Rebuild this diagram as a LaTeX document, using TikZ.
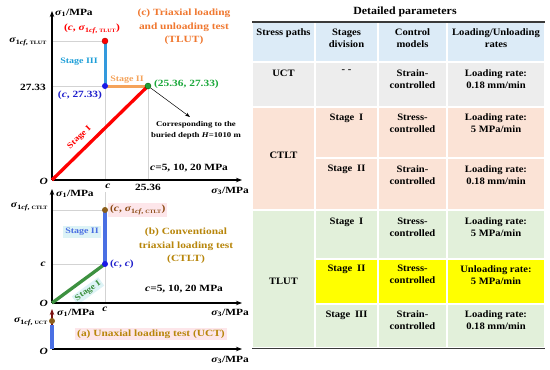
\documentclass[tikz,border=0pt]{standalone}
\usepackage{fontspec}
\setmainfont{Liberation Serif}
\newfontfamily\cf{Liberation Serif}[FakeStretch=1.2]
\newfontfamily\tf{Liberation Serif}[FakeStretch=1.08]
\usetikzlibrary{arrows.meta}
\definecolor{orangeT}{HTML}{F07830}
\definecolor{redP}{HTML}{FF0000}
\definecolor{cyanS}{HTML}{1E9FD8}
\definecolor{lineIII}{HTML}{3399DD}
\definecolor{orangeL}{HTML}{F5A35A}
\definecolor{greenP}{HTML}{22A03A}
\definecolor{greenT}{HTML}{1AA83A}
\definecolor{blueP}{HTML}{1A1AE6}
\definecolor{blueT}{HTML}{2020CC}
\definecolor{brownP}{HTML}{8B5E1A}
\definecolor{brownT}{HTML}{8B4A13}
\definecolor{goldT}{HTML}{B8860B}
\definecolor{blueL}{HTML}{4A6FE3}
\definecolor{greenL}{HTML}{3D9140}
\definecolor{pinkbg}{HTML}{FDE6EA}
\definecolor{cyanbg}{HTML}{DDF3F6}
\definecolor{gridgray}{HTML}{D3D3D3}
\definecolor{axred}{HTML}{7A1010}
\definecolor{hdr}{HTML}{DCEBF7}
\definecolor{ucte}{HTML}{EDEDED}
\definecolor{ctlt}{HTML}{FBE3D6}
\definecolor{tlut}{HTML}{E2F0DA}
\definecolor{yel}{HTML}{FFFF00}
\definecolor{rulec}{HTML}{3A3A3A}
\newcommand\sgm[1]{\textit{σ}\textsubscript{#1}}
\begin{document}
\begin{tikzpicture}[x=1pt,y=-1pt,
  every node/.style={inner sep=0pt},
  lbl/.style={font=\cf\bfseries\fontsize{9.5}{11}\selectfont},
  small/.style={font=\cf\bfseries\fontsize{7.3}{11}\selectfont},
  stg/.style={font=\cf\bfseries\fontsize{8.3}{9}\selectfont},
  ttl/.style={font=\cf\bfseries\fontsize{9.5}{13.5}\selectfont, align=center},
  axis/.style={-{Stealth[length=6pt,width=4.5pt]}, line width=1.1pt},
  gridl/.style={draw=gridgray, line width=0.6pt},
  pt/.style={circle, minimum size=6pt, inner sep=0pt},
  cell/.style={draw=white, line width=1.5pt},
  th/.style={font=\tf\bfseries\fontsize{9.8}{12}\selectfont, align=center, anchor=north},
  tt/.style={font=\tf\bfseries\fontsize{9.8}{12}\selectfont, align=center, anchor=north},
]
\useasboundingbox (0,0) rectangle (550,370);
\fill[white] (0,0) rectangle (550,370);

% ================= chart (c) =================
\coordinate (Oc) at (52,180);
\coordinate (Yc) at (52,11);
\coordinate (Xc) at (242,180);
\coordinate (Pr) at (105,41);
\coordinate (Pb) at (105,86);
\coordinate (Pg) at (148,86);
\draw[gridl] (52,41) -- (Pr);
\draw[gridl] (52,86) -- (Pb);
\draw[gridl] (105,180) -- (Pr);
\draw[gridl] (148,180) -- (Pg);
\draw[axis] (Oc) -- (Yc);
\draw[axis] (Oc) -- (Xc);
\draw[line width=3pt, draw=lineIII] (Pr) -- (Pb);
\draw[line width=3pt, draw=orangeL] (Pb) -- (Pg);
\draw[line width=3.3pt, draw=redP] (Oc) -- (Pg);
\node[pt, fill=redP, draw=red!70!black, line width=0.4pt] (nPr) at (Pr) {};
\node[pt, fill=blueP] (nPb) at (Pb) {};
\node[pt, fill=greenP, draw=green!40!black, line width=0.4pt] (nPg) at (Pg) {};
\coordinate (arrEnd) at (190,117);
\draw[-{Stealth[length=5pt,width=3.5pt]}, line width=0.5pt] (nPg) -- (arrEnd);

\node[lbl, anchor=west] (c-s1) at (55,13) {\sgm{1}/MPa};
\node[lbl, anchor=east] (c-s1cf) at (47,42) {\sgm{1\textit{cf}, {\tiny TLUT}}};
\node[lbl, anchor=east] (c-2733) at (46,87) {27.33};
\node[lbl, anchor=east] (c-O) at (48,181) {\textit{O}};
\node[lbl] (c-c) at (108,186) {\textit{c}};
\node[lbl] (c-2536) at (148,187) {25.36};
\node[lbl, anchor=east] (c-s3) at (249,191) {\sgm{3}/MPa};
\node[lbl, text=redP] (c-lr) at (92,29) {(\textit{c}, \sgm{1\textit{cf}, {\tiny TLUT}})};
\node[lbl, text=blueT] (c-lb) at (80,95) {(\textit{c}, 27.33)};
\node[lbl, text=greenT, anchor=west] (c-lg) at (154,84) {(25.36, 27.33)};
\node[stg, text=cyanS] (c-st3) at (79,62) {Stage III};
\node[stg, text=orangeL] (c-st2) at (127,79.5) {Stage II};
\node[stg, text=redP, rotate=44] (c-st1) at (79.5,137.5) {Stage I};
\node[ttl, text=orangeT] (c-title) at (184,27) {(c) Triaxial loading\\and unloading test\\(TLUT)};
\node[small, align=center] (c-note) at (196,130) {Corresponding to the\\buried depth \textit{H}=1010 m};
\node[lbl, anchor=west] (c-cval) at (150,168) {\textit{c}=5, 10, 20 MPa};

% ================= chart (b) =================
\coordinate (Ob) at (52,303);
\coordinate (Yb) at (52,189);
\coordinate (Xb) at (242,303);
\coordinate (Bt) at (105,210);
\coordinate (Bc) at (105,264);
\draw[gridl] (52,210) -- (Bt);
\draw[gridl] (52,264) -- (Bc);
\draw[gridl] (105,303) -- (105,192);
\node[stg, fill=cyanbg, inner sep=2pt, text=blueL] (b-st2) at (82,232) {Stage II};
\node[stg, fill=cyanbg, inner sep=1.5pt, text=greenL, rotate=36] (b-st1) at (88,291) {Stage I};
\draw[axis] (Ob) -- (Yb);
\draw[axis] (Ob) -- (Xb);
\draw[line width=3.3pt, draw=greenL] (Ob) -- (Bc);
\draw[line width=3.3pt, draw=blueL] (Bc) -- (Bt);
\node[pt, fill=brownP] (nBt) at (Bt) {};
\node[pt, fill=blueP] (nBc) at (Bc) {};
\node[lbl, anchor=west] (b-s1) at (56,194) {\sgm{1}/MPa};
\node[lbl, anchor=east] (b-s1cf) at (48,207) {\sgm{1\textit{cf}, {\tiny CTLT}}};
\node[lbl, anchor=east] (b-c) at (46,264) {\textit{c}};
\node[lbl, anchor=east] (b-O) at (48,303) {\textit{O}};
\node[lbl] (b-cx) at (105,309) {\textit{c}};
\node[lbl, anchor=east] (b-s3) at (249,313) {\sgm{3}/MPa};
\node[lbl, text=brownT, anchor=west, fill=pinkbg, inner sep=2pt] (b-lt) at (108,210) {(\textit{c}, \sgm{1\textit{cf}, {\tiny CTLT}})};
\node[lbl, text=blueT, anchor=west] (b-lc) at (110,264) {(\textit{c}, \textit{c})};
\node[ttl, text=goldT] (b-title) at (186,246) {(b) Conventional\\triaxial loading test\\(CTLT)};
\node[lbl, anchor=west] (b-cval) at (145,289) {\textit{c}=5, 10, 20 MPa};

% ================= chart (a) =================
\coordinate (Oa) at (52,349);
\coordinate (Ya) at (52,309);
\coordinate (Xa) at (242,349);
\coordinate (At) at (52,321);
\draw[axis] (Oa) -- (Xa);
\draw[axis, draw=axred, fill=axred] (Oa) -- (Ya);
\draw[line width=3.5pt, draw=blueL] (52,325) -- (Oa);
\node[pt, fill=brownP] (nAt) at (At) {};
\node[lbl, anchor=west] (a-s1) at (57,313) {\sgm{1}/MPa};
\node[lbl, anchor=east] (a-s1cf) at (48,322) {\sgm{1\textit{cf}, {\tiny UCT}}};
\node[lbl, anchor=east] (a-O) at (48,351) {\textit{O}};
\node[lbl, anchor=east] (a-s3) at (249,360) {\sgm{3}/MPa};
\node[lbl, text=goldT, fill=pinkbg, inner sep=2pt] (a-title) at (151,334) {(a) Unaxial loading test (UCT)};

% ================= table =================
\node[font=\tf\bfseries\fontsize{11}{13}\selectfont] (tab-title) at (405,12) {Detailed parameters};
\foreach \xa/\xb in {252/315,315/378,378/447,447/545}{
  \filldraw[cell, fill=hdr] (\xa,22) rectangle (\xb,62);
  \filldraw[cell, fill=ucte] (\xa,62) rectangle (\xb,107);
}
\filldraw[cell, fill=ctlt] (252,107) rectangle (315,210);
\filldraw[cell, fill=tlut] (252,210) rectangle (315,348);
\foreach \xa/\xb in {315/378,378/447,447/545}{
  \filldraw[cell, fill=ctlt] (\xa,107) rectangle (\xb,158);
  \filldraw[cell, fill=ctlt] (\xa,158) rectangle (\xb,210);
  \filldraw[cell, fill=tlut] (\xa,210) rectangle (\xb,259);
  \filldraw[cell, fill=yel] (\xa,259) rectangle (\xb,304);
  \filldraw[cell, fill=tlut] (\xa,304) rectangle (\xb,348);
}
\draw[rulec, line width=1.6pt] (252,22) -- (545,22);
\draw[rulec, line width=1.6pt] (252,348.5) -- (545,348.5);

\node[th] (h1) at (283.5,28.5) {Stress paths};
\node[th] (h2) at (346.5,28.5) {Stages\\division};
\node[th] (h3) at (412.5,28.5) {Control\\models};
\node[th] (h4) at (496,28.5) {Loading/Unloading\\rates};

\node[tt] (u1) at (283.5,69.5) {UCT};
\node[tt] (u2) at (346.5,69.5) {- -};
\node[tt] (u3) at (412.5,69.5) {Strain-\\controlled};
\node[tt] (u4) at (496,69.5) {Loading rate:\\0.18 mm/min};

\node[tt, anchor=center] (ct1) at (283.5,155) {CTLT};
\node[tt] (ca2) at (346.5,113.5) {Stage\enspace I};
\node[tt] (ca3) at (412.5,113.5) {Stress-\\controlled};
\node[tt] (ca4) at (496,113.5) {Loading rate:\\5 MPa/min};
\node[tt] (cb2) at (346.5,165.2) {Stage\enspace II};
\node[tt] (cb3) at (412.5,165.2) {Strain-\\controlled};
\node[tt] (cb4) at (496,165.2) {Loading rate:\\0.18 mm/min};

\node[tt, anchor=center] (tl1) at (283.5,281) {TLUT};
\node[tt] (ta2) at (346.5,217.5) {Stage\enspace I};
\node[tt] (ta3) at (412.5,217.5) {Stress-\\controlled};
\node[tt] (ta4) at (496,217.5) {Loading rate:\\5 MPa/min};
\node[tt] (tb2) at (346.5,265.2) {Stage\enspace II};
\node[tt] (tb3) at (412.5,265.2) {Stress-\\controlled};
\node[tt] (tb4) at (496,265.2) {Unloading rate:\\5 MPa/min};
\node[tt] (tc2) at (346.5,310.5) {Stage\enspace III};
\node[tt] (tc3) at (412.5,310.5) {Strain-\\controlled};
\node[tt] (tc4) at (496,310.5) {Loading rate:\\0.18 mm/min};
\end{tikzpicture}
\end{document}
